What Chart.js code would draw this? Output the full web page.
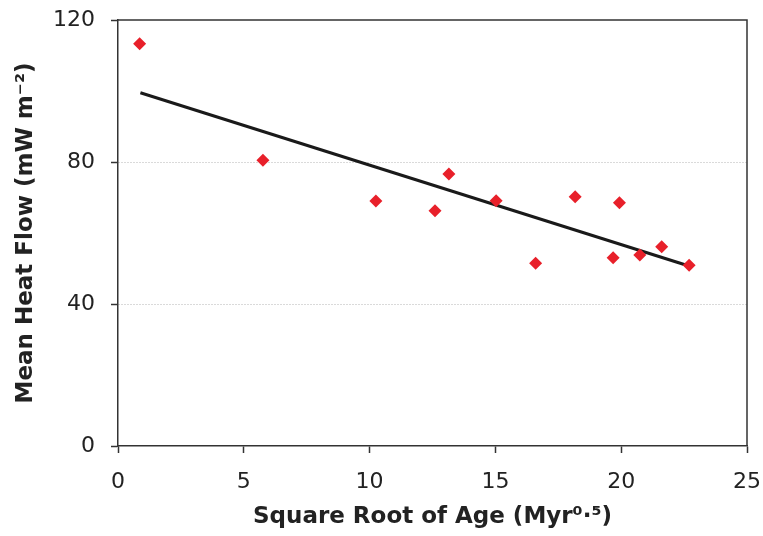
<!DOCTYPE html>
<html>
<head>
<meta charset="utf-8">
<script src="https://cdn.jsdelivr.net/npm/chart.js@4"></script>
<style>
  html, body { margin: 0; padding: 0; background: #fff; }
  #wrap { width: 763px; height: 536px; }
</style>
</head>
<body>
<div id="wrap"><canvas id="chart"></canvas></div>
<script>
// data
const ageRoot = [0.86, 5.76, 10.25, 12.6, 13.15, 15.03, 16.6, 18.17, 19.68, 19.93, 20.74, 21.61, 22.7];
const heatFlow = [113.3, 80.5, 69.0, 66.3, 76.6, 69.1, 51.5, 70.2, 53.0, 68.5, 53.8, 56.1, 50.9];
const trendX = [0.89, 22.6];
const trendY = [99.5, 50.9];
const xTicks = [0, 5, 10, 15, 20, 25];
const yTicks = [0, 40, 80, 120];

const font = 'DejaVu Sans, Verdana, sans-serif';

// box around the plot area (top + right edges)
const frame = {
    id: 'frame',
    afterDraw(chart) {
        const a = chart.chartArea;
        const ctx = chart.ctx;
        ctx.save();
        ctx.strokeStyle = '#333';
        ctx.lineWidth = 1.5;
        ctx.beginPath();
        ctx.moveTo(a.left, a.top);
        ctx.lineTo(a.right, a.top);
        ctx.lineTo(a.right, a.bottom);
        ctx.stroke();
        ctx.restore();
    }
};

// keep tick labels from pushing the plot area around
function noOverflow(s) {
    s.paddingLeft = 0;
    s.paddingRight = 0;
    s.paddingTop = 0;
    s.paddingBottom = 0;
}

new Chart(document.getElementById('chart'), {
    type: 'scatter',
    data: {
        datasets: [{
            label: 'Heat flow',
            data: ageRoot.map((x, i) => ({ x: x, y: heatFlow[i] })),
            pointStyle: 'rectRot',
            pointRadius: 6.5,
            backgroundColor: '#e8202a',
            borderColor: '#e8202a',
            borderWidth: 0
        }, {
            label: 'Trend',
            type: 'line',
            data: trendX.map((x, i) => ({ x: x, y: trendY[i] })),
            borderColor: '#1a1a1a',
            borderWidth: 3,
            pointRadius: 0,
            fill: false
        }]
    },
    options: {
        responsive: true,
        maintainAspectRatio: false,
        animation: false,
        layout: { padding: { top: 20, right: 16, left: 0, bottom: 0 } },
        plugins: {
            legend: { display: false },
            tooltip: { enabled: false }
        },
        scales: {
            x: {
                type: 'linear',
                min: 0,
                max: 25,
                afterBuildTicks: s => { s.ticks = xTicks.map(v => ({ value: v })); },
                afterFit: s => { s.height = 90; noOverflow(s); },
                grid: { drawOnChartArea: false, tickLength: 7, tickColor: '#333', tickWidth: 1.5 },
                border: { color: '#333', width: 1.5 },
                ticks: { color: '#222', font: { family: font, size: 22 }, padding: 16, maxRotation: 0 },
                title: {
                    display: true,
                    text: 'Square Root of Age (Myr\u2070\u00b7\u2075)',
                    color: '#222',
                    font: { family: font, size: 23, weight: 'bold' },
                    padding: { top: 0, bottom: 5 }
                }
            },
            y: {
                min: 0,
                max: 120,
                afterBuildTicks: s => { s.ticks = yTicks.map(v => ({ value: v })); },
                afterFit: s => { s.width = 118; noOverflow(s); },
                grid: {
                    color: c => (c.tick && (c.tick.value === 40 || c.tick.value === 80)) ? '#b5b5b5' : 'rgba(0,0,0,0)',
                    lineWidth: 1,
                    tickLength: 7,
                    tickColor: '#333',
                    tickWidth: 1.5
                },
                border: { color: '#333', width: 1.5, dash: [1, 2] },
                ticks: { color: '#222', font: { family: font, size: 22 }, padding: 16 },
                title: {
                    display: true,
                    text: 'Mean Heat Flow (mW m\u207b\u00b2)',
                    color: '#222',
                    font: { family: font, size: 23, weight: 'bold' },
                    padding: { top: 12, bottom: 0 }
                }
            }
        }
    },
    plugins: [frame]
});
</script>
</body>
</html>
